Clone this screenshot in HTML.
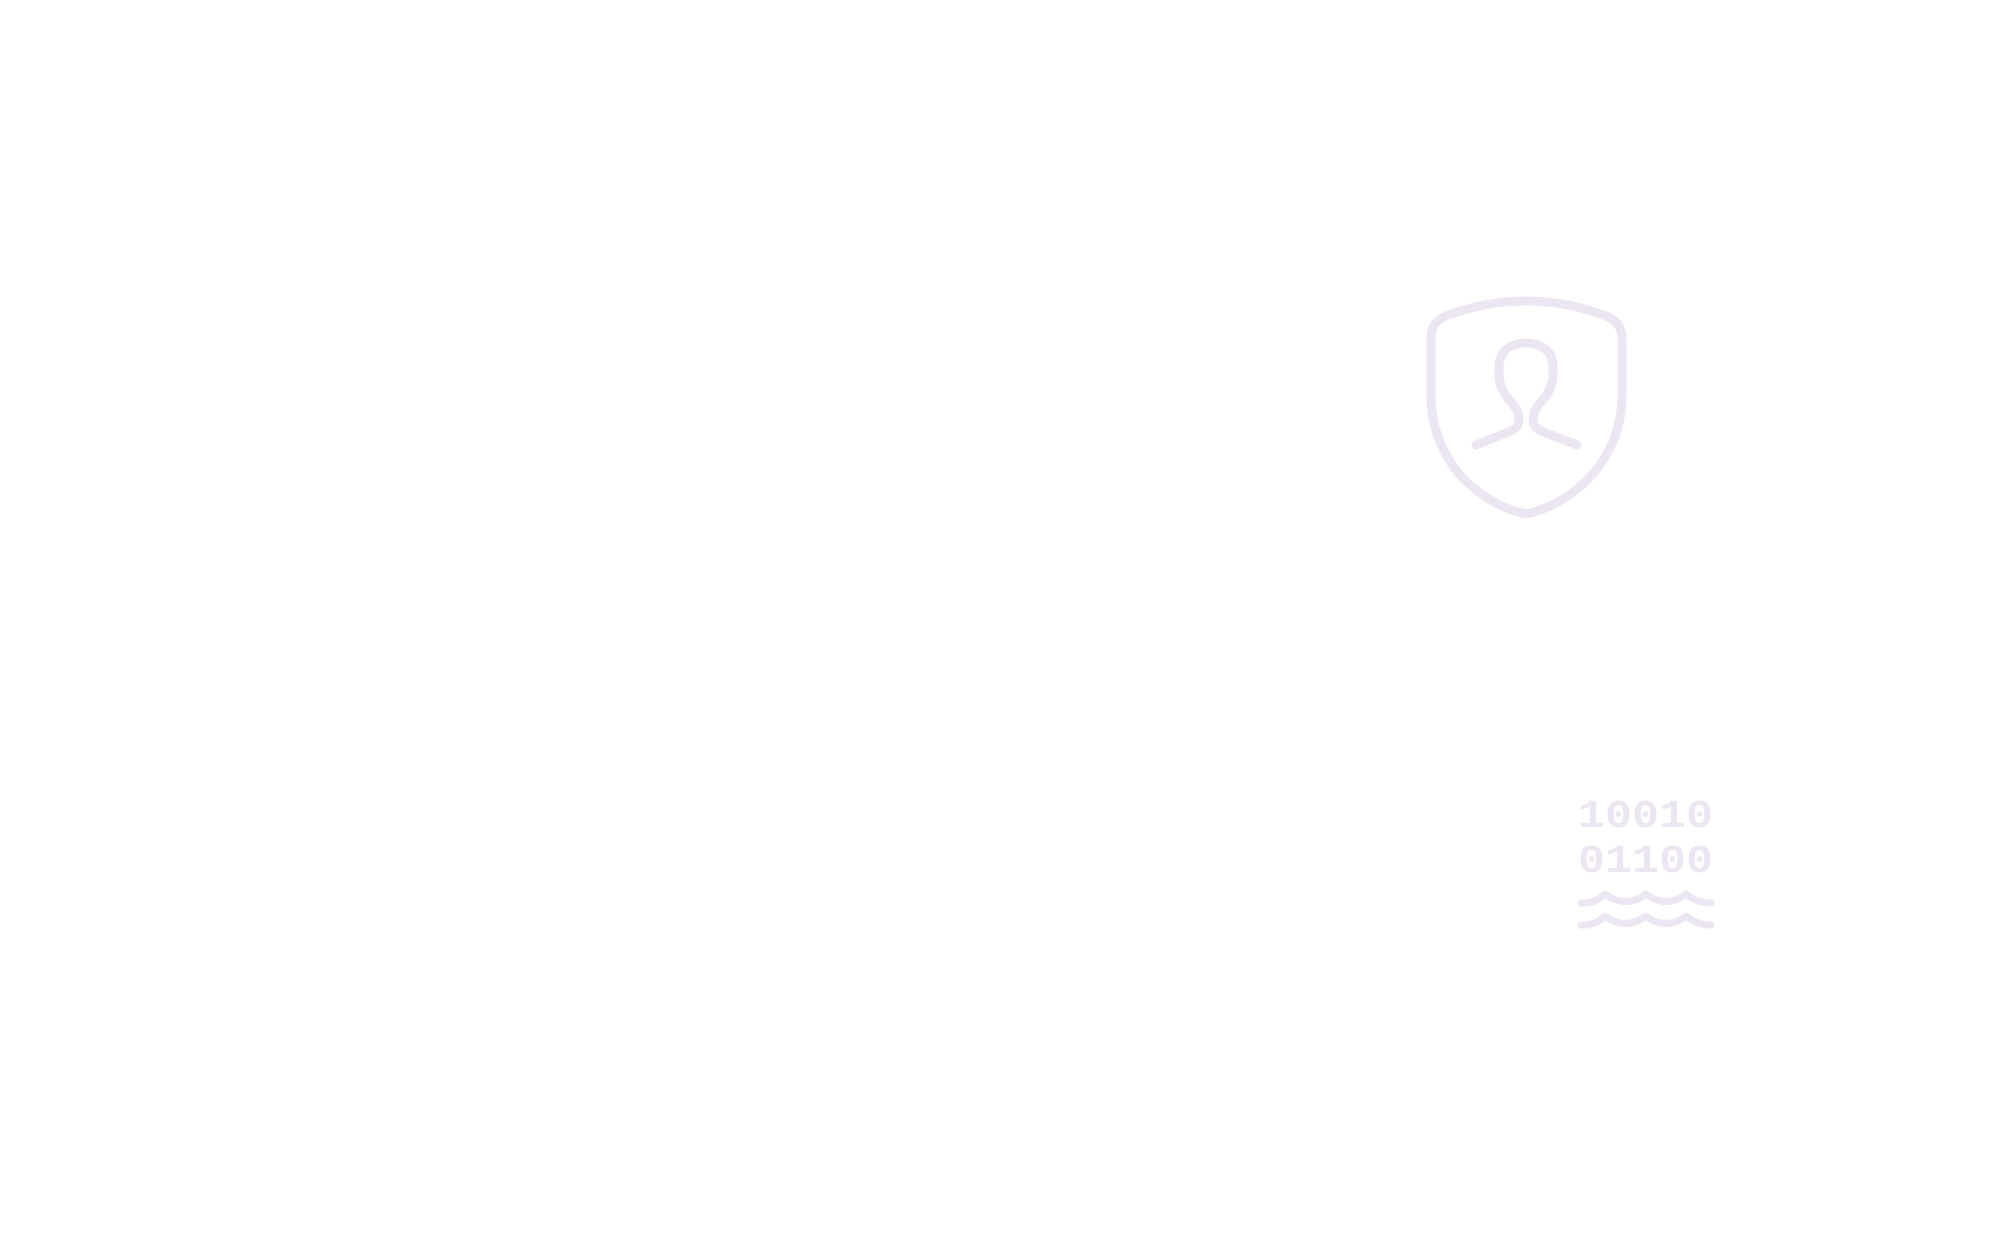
<!DOCTYPE html>
<html><head><meta charset="utf-8"><style>
html,body{margin:0;padding:0;background:#fff;width:2000px;height:1250px;overflow:hidden}
</style></head><body>
<svg width="2000" height="1250" viewBox="0 0 2000 1250" xmlns="http://www.w3.org/2000/svg">
<rect width="2000" height="1250" fill="#ffffff"/>
<g fill="none" stroke="#ece6f3" stroke-width="9" stroke-linecap="round" stroke-linejoin="round">
<path d="M1431 338 Q1431 322 1446 316 Q1485 301 1526 301 Q1567 301 1606 316 Q1622 322 1622 338 L1622 395 Q1622 440 1592 475 Q1567 502 1534 512 Q1526 515 1518 512 Q1485 502 1460 475 Q1431 440 1431 395 Z"/>
<path d="M1476 445 L1511 431 Q1522 426 1518 413 Q1516 407 1510 401 Q1499 389 1499 374 L1499 368 Q1499 344 1526 343 Q1553 344 1553 368 L1553 374 Q1553 389 1542 401 Q1536 407 1534 413 Q1530 426 1541 431 L1577 445"/>
</g>
<g>
<text x="1578" y="827" font-family="'Liberation Mono', monospace" font-weight="bold" font-size="40" fill="#ece6f3" textLength="135" lengthAdjust="spacingAndGlyphs">10010</text>
<text x="1578" y="872" font-family="'Liberation Mono', monospace" font-weight="bold" font-size="40" fill="#ece6f3" textLength="135" lengthAdjust="spacingAndGlyphs">01100</text>
<g fill="none" stroke="#ece6f3" stroke-width="7" stroke-linecap="round" stroke-linejoin="round">
<path d="M1581 903 Q1595 904 1605 894 Q1625 909 1646 894 Q1666 909 1686 894 Q1697 903 1711 903"/>
<path d="M1581 925 Q1595 926 1605 916 Q1625 931 1646 916 Q1666 931 1686 916 Q1697 925 1711 925"/>
</g>
</g>
</svg>
</body></html>
